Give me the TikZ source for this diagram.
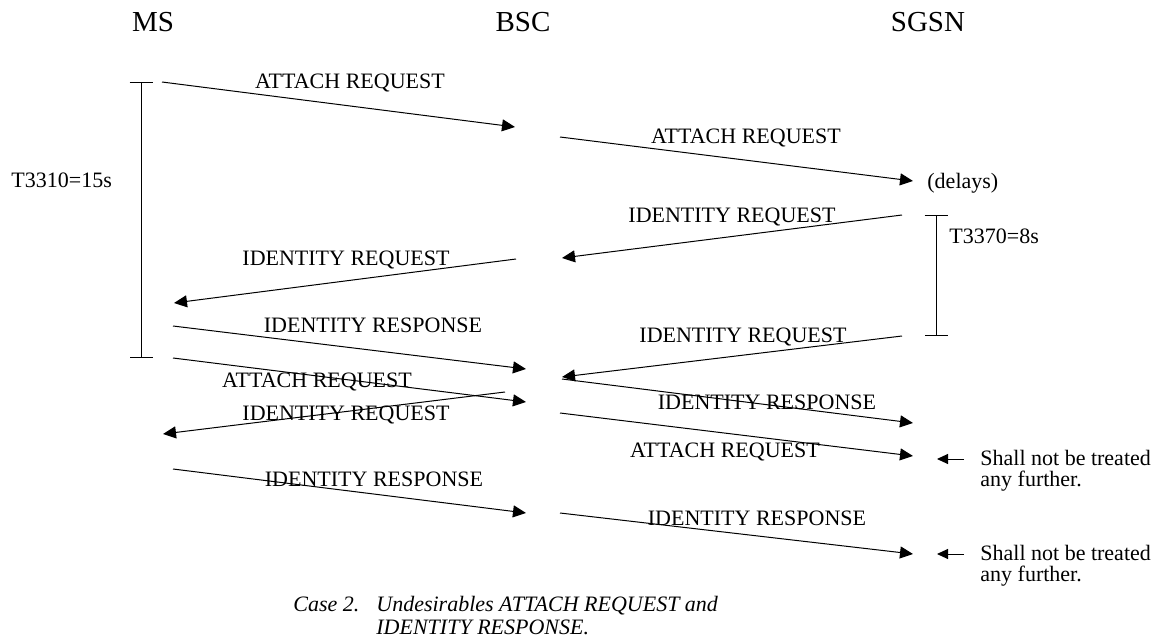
\documentclass[tikz,border=0pt]{standalone}
\usepackage{fontspec}
\setmainfont{Liberation Serif}
\usetikzlibrary{arrows.meta}

\begin{document}
\begin{tikzpicture}[x=0.5pt, y=-0.5pt,
    every node/.style={font=\fontsize{11}{13}\selectfont, inner sep=0pt},
    msg/.style={line width=0.5pt, -{Triangle[length=6.5pt, width=6pt]}},
    note/.style={line width=0.5pt, -{Triangle[length=5.5pt, width=5pt]}},
    timer/.style={line width=0.5pt, {Bar[width=11.5pt]}-{Bar[width=11.5pt]}}]
  \useasboundingbox (0,0) rectangle (1163,642);

  \foreach \n/\x/\t in {ms/153/MS, bsc/523/BSC, sgsn/928/SGSN}
    \node[anchor=base, font=\fontsize{14.5}{17}\selectfont] (\n) at (\x,32) {\t};

  \foreach \i/\ax/\ay/\bx/\by/\lx/\ly/\t in {
      1/162/82/515/127/350/89/ATTACH REQUEST,
      2/560/137/913/181/746/144/ATTACH REQUEST,
      3/902/215/562/258/732/222/IDENTITY REQUEST,
      4/516/259/174/303/346/265/IDENTITY REQUEST,
      5/173/326/526/369/373/332/IDENTITY RESPONSE,
      6/902/336/562/377/743/342/IDENTITY REQUEST,
      7/173/358/526/402/317/387/ATTACH REQUEST,
      8/505/392/163/434/346/420/IDENTITY REQUEST,
      9/173/469/526/513/374/486/IDENTITY RESPONSE,
      10/562/379/913/423/767/409/IDENTITY RESPONSE,
      11/560/413/913/456/725/457/ATTACH REQUEST,
      12/560/513/913/554/757/525/IDENTITY RESPONSE} {
    \coordinate (s\i) at (\ax,\ay);
    \coordinate (e\i) at (\bx,\by);
    \draw[msg] (s\i) -- (e\i);
    \node[anchor=base] (l\i) at (\lx,\ly) {\t};
  }

  \coordinate (t1a) at (141,82);
  \coordinate (t1b) at (141,358);
  \draw[timer] (t1a) -- (t1b);
  \node[anchor=base west] (t3310) at (11,188) {T3310=15s};

  \coordinate (t2a) at (936,215);
  \coordinate (t2b) at (936,336);
  \draw[timer] (t2a) -- (t2b);
  \node[anchor=base west] (t3370) at (949,243) {T3370=8s};

  \node[anchor=base west] (delays) at (927,189) {(delays)};

  \foreach \i/\y in {1/459, 2/554} {
    \coordinate (n\i) at (964,\y);
    \coordinate (m\i) at (937,\y);
    \draw[note] (n\i) -- (m\i);
    \node[anchor=base west] (sh\i) at (980,\y+6) {Shall not be treated};
    \node[anchor=base west] (fu\i) at (980,\y+27) {any further.};
  }

  \node[anchor=base west, font=\fontsize{11}{13}\selectfont\itshape] (case) at (293,611) {Case 2.};
  \node[anchor=base west, font=\fontsize{11}{13}\selectfont\itshape] (capa) at (376,611) {Undesirables ATTACH REQUEST and};
  \node[anchor=base west, font=\fontsize{11}{13}\selectfont\itshape] (capb) at (376,634) {IDENTITY RESPONSE.};
\end{tikzpicture}
\end{document}
